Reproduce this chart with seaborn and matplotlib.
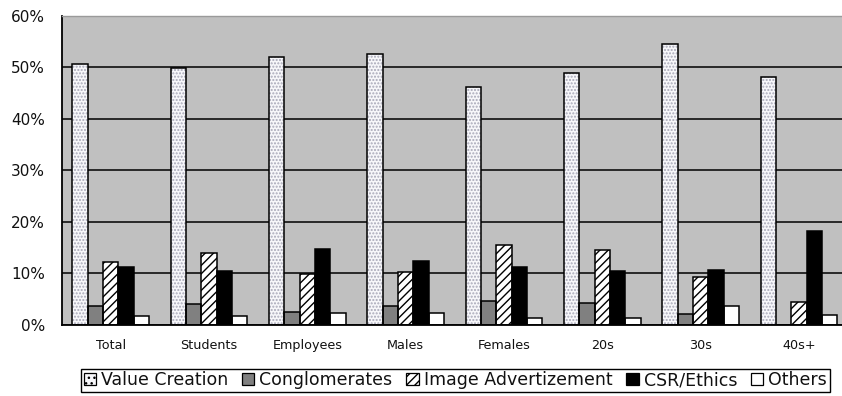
import matplotlib
matplotlib.use("Agg")
import matplotlib.pyplot as plt
import numpy as np
import pandas as pd
import seaborn as sns
from matplotlib.patches import Patch
from matplotlib.ticker import FixedLocator, FuncFormatter, MultipleLocator

# Survey shares (%) by respondent group
groups = ["Total", "Students", "Employees", "Males", "Females", "20s", "30s", "40s+"]
value_creation = [50.7, 49.9, 51.9, 52.5, 46.1, 48.8, 54.6, 48.2]
conglomerates = [3.7, 4.1, 2.5, 3.7, 4.7, 4.3, 2.2, 0.0]
image_adv = [12.2, 14.0, 9.9, 10.3, 15.5, 14.5, 9.4, 4.5]
csr_ethics = [11.3, 10.5, 14.7, 12.5, 11.3, 10.4, 10.7, 18.2]
others = [1.7, 1.7, 2.3, 2.3, 1.4, 1.4, 3.7, 1.9]

series_names = ["Value Creation", "Conglomerates", "Image Advertizement",
                "CSR/Ethics", "Others"]
series_values = [value_creation, conglomerates, image_adv, csr_ethics, others]

df = pd.DataFrame(
    [(g, name, v) for name, vals in zip(series_names, series_values)
     for g, v in zip(groups, vals)],
    columns=["group", "series", "value"],
)

# fill colour, hatch pattern, hatch colour for each series
styles = {
    "Value Creation": ("#f7f7fa", ".....", "#a8a8b8"),
    "Conglomerates": ("#808080", "", "#808080"),
    "Image Advertizement": ("#ffffff", "////", "#000000"),
    "CSR/Ethics": ("#000000", "", "#000000"),
    "Others": ("#ffffff", "", "#ffffff"),
}

sns.set_theme(style="white")
plt.rcParams["font.family"] = ["DejaVu Sans"]
plt.rcParams["hatch.linewidth"] = 1.0

fig = plt.figure(figsize=(8.42, 3.96), dpi=100)
fig.patch.set_facecolor("white")
ax = fig.add_axes([61.6 / 842, 71 / 396, (848 - 61.6) / 842, (325 - 15.7) / 396])
ax.set_facecolor("#c0c0c0")
ax.set_axisbelow(True)

bar_width = 0.78

# filled layer (faces + hatching)
sns.barplot(data=df, x="group", y="value", hue="series", order=groups,
            hue_order=series_names, width=bar_width, dodge=True,
            palette=[styles[s][0] for s in series_names], saturation=1,
            linewidth=0, legend=False, ax=ax, errorbar=None)
for name, cont in zip(series_names, ax.containers):
    face, hatch, hcol = styles[name]
    for p in cont.patches:
        p.set_facecolor(face)
        p.set_edgecolor(hcol)
        p.set_hatch(hatch)
        p.set_linewidth(0)
        p.set_zorder(2)

# black outline layer
sns.barplot(data=df, x="group", y="value", hue="series", order=groups,
            hue_order=series_names, width=bar_width, dodge=True,
            palette=["black"] * len(series_names), saturation=1, fill=False,
            linewidth=1.1, legend=False, ax=ax, errorbar=None)
for cont in ax.containers[len(series_names):]:
    for p in cont.patches:
        p.set_zorder(3)

ax.set_xlim(-0.5, len(groups) - 0.5)
ax.set_ylim(0, 60)
ax.yaxis.set_major_locator(MultipleLocator(10))
ax.yaxis.set_major_formatter(FuncFormatter(lambda v, _: f"{v:.0f}%"))
ax.grid(axis="y", color="black", linewidth=1.1)
ax.grid(axis="x", visible=False)

ax.set_xlabel("")
ax.set_ylabel("")
ax.tick_params(axis="y", length=0, pad=12, labelsize=11, labelcolor="#111111")
ax.tick_params(axis="x", which="major", length=0, pad=10, labelsize=9.2,
               labelcolor="#111111")
ax.xaxis.set_minor_locator(FixedLocator(np.arange(0.5, len(groups) - 0.5, 1.0)))
ax.tick_params(axis="x", which="minor", direction="in", length=3.5, width=1.0,
               color="black")

for side in ["left", "bottom"]:
    ax.spines[side].set_color("black")
    ax.spines[side].set_linewidth(1.3)
ax.spines["top"].set_color("#9a9a9a")
ax.spines["top"].set_linewidth(1.0)
ax.spines["right"].set_visible(False)

handles = []
for name in series_names:
    face, hatch, hcol = styles[name]
    if name == "Value Creation":
        hatch = "..."
    handles.append(Patch(facecolor=face, edgecolor="black", hatch=hatch,
                         linewidth=0.9, label=name))

leg = fig.legend(handles=handles, loc="upper left",
                 bbox_to_anchor=(81 / 842, 1 - 368.5 / 396), ncol=5,
                 frameon=True, fancybox=False, framealpha=1, edgecolor="black",
                 fontsize=12.5, handlelength=0.7, handleheight=0.7,
                 handletextpad=0.3, columnspacing=0.8, borderpad=0.15,
                 borderaxespad=0)
leg.get_frame().set_linewidth(1.0)
for t in leg.get_texts():
    t.set_color("#111111")

fig.savefig("out.png", dpi=100)
